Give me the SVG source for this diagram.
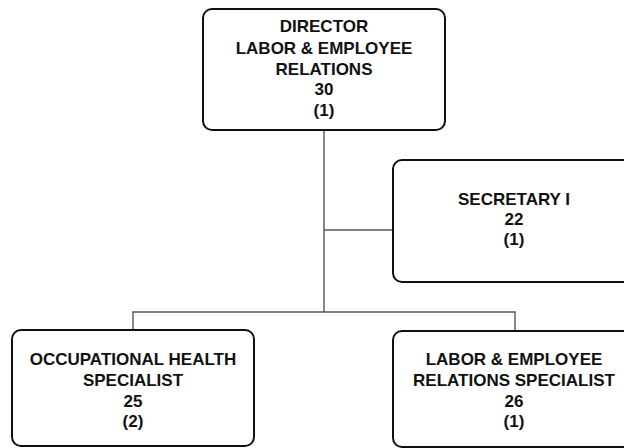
<svg xmlns="http://www.w3.org/2000/svg" width="624" height="448" viewBox="0 0 624 448">
<style>
.box{fill:#fff;stroke:#111;stroke-width:2}
.t{font-family:"Liberation Sans",Arial,sans-serif;font-weight:bold;font-size:17px;fill:#111;text-anchor:middle}
.c{fill:none;stroke:#555;stroke-width:1.4}
</style>
<rect width="624" height="448" fill="#fff"/>
<g id="connectors">
<path class="c" d="M324 130V312M324 230H393M133 330V312H515V331"/>
</g>
<g id="director">
<rect class="box" x="203" y="9" width="242" height="121" rx="9"/>
<text class="t" x="324" y="32">DIRECTOR</text>
<text class="t" x="324" y="54">LABOR &amp; EMPLOYEE</text>
<text class="t" x="324" y="75">RELATIONS</text>
<text class="t" x="324" y="95">30</text>
<text class="t" x="324" y="116">(1)</text>
</g>
<g id="secretary">
<rect class="box" x="393" y="160" width="242" height="122" rx="9"/>
<text class="t" x="514" y="205">SECRETARY I</text>
<text class="t" x="514" y="225">22</text>
<text class="t" x="514" y="245">(1)</text>
</g>
<g id="ohs">
<rect class="box" x="12" y="330" width="242" height="116" rx="9"/>
<text class="t" x="133" y="365">OCCUPATIONAL HEALTH</text>
<text class="t" x="133" y="386">SPECIALIST</text>
<text class="t" x="133" y="407">25</text>
<text class="t" x="133" y="427">(2)</text>
</g>
<g id="lers">
<rect class="box" x="393" y="331" width="242" height="116" rx="9"/>
<text class="t" x="514" y="365">LABOR &amp; EMPLOYEE</text>
<text class="t" x="514" y="386">RELATIONS SPECIALIST</text>
<text class="t" x="514" y="407">26</text>
<text class="t" x="514" y="427">(1)</text>
</g>
</svg>
